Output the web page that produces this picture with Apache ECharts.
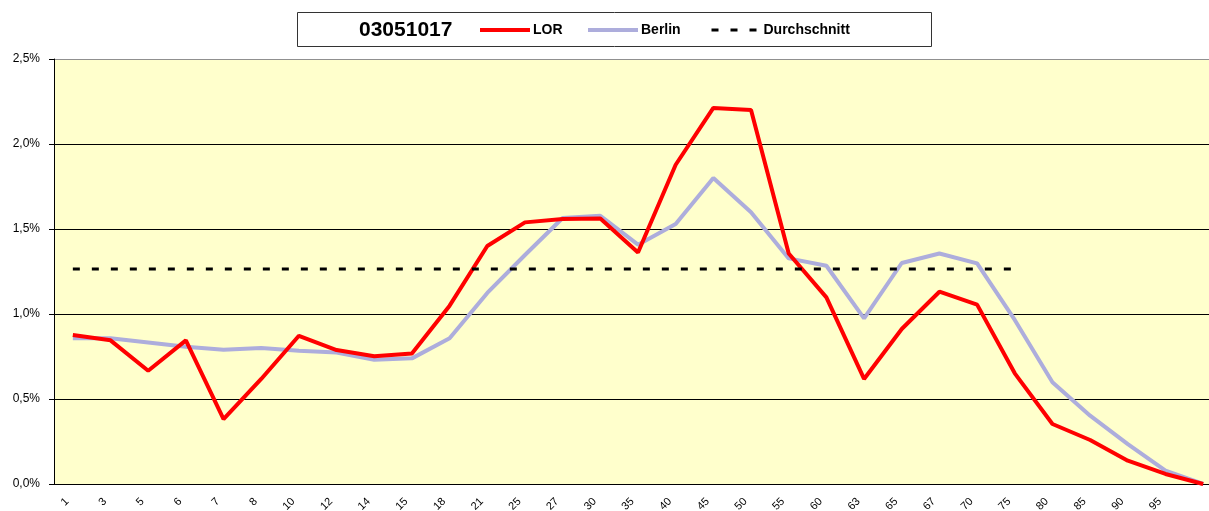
<!DOCTYPE html>
<html>
<head>
<meta charset="utf-8">
<script src="https://cdn.jsdelivr.net/npm/echarts@6/dist/echarts.min.js"></script>
<style>
  html, body { margin: 0; padding: 0; background: #fff; }
  #main { width: 1209px; height: 511px; }
</style>
</head>
<body>
<div id="main"></div>
<script>
// Altersgruppen (Kategorien der x-Achse)
const ageLabels = ['1', '3', '5', '6', '7', '8', '10', '12', '14', '15', '18', '21', '25', '27', '30',
  '35', '40', '45', '50', '55', '60', '63', '65', '67', '70', '75', '80', '85', '90', '95', ''];

// Anteile in %
const lorValues = [0.876, 0.845, 0.666, 0.845, 0.382, 0.618, 0.872, 0.788, 0.751, 0.768,
  1.049, 1.400, 1.539, 1.559, 1.562, 1.362, 1.878, 2.212, 2.200, 1.356,
  1.098, 0.618, 0.912, 1.131, 1.055, 0.651, 0.353, 0.259, 0.137, 0.059, 0.0];

const berlinValues = [0.857, 0.857, 0.833, 0.808, 0.790, 0.800, 0.784, 0.774, 0.731, 0.739,
  0.857, 1.124, 1.347, 1.565, 1.578, 1.408, 1.529, 1.800, 1.598, 1.327,
  1.284, 0.974, 1.300, 1.356, 1.298, 0.965, 0.598, 0.402, 0.235, 0.078, 0.0];

const avgValues = [1.265, 1.265, 1.265, 1.265, 1.265, 1.265, 1.265, 1.265, 1.265, 1.265,
  1.265, 1.265, 1.265, 1.265, 1.265, 1.265, 1.265, 1.265, 1.265, 1.265,
  1.265, 1.265, 1.265, 1.265, 1.265, 1.265, null, null, null, null, null];

const chartTitle = '03051017';

const myChart = echarts.init(document.getElementById('main'));

const font = '"Liberation Sans", Arial, sans-serif';

// ein Legendeneintrag pro Serie, damit jeder genau sitzt
function legendItem(name, left, width, lineWidth, textShift) {
  return {
    data: [name],
    left: left,
    top: 23,
    padding: 0,
    itemWidth: width,
    itemHeight: 14,
    itemStyle: { opacity: 0 },
    lineStyle: { width: lineWidth },
    textStyle: { fontFamily: font, fontSize: 14, fontWeight: 'bold', color: '#000', padding: [0, 0, 0, textShift] }
  };
}

const option = {
  animation: false,
  backgroundColor: '#ffffff',
  textStyle: { fontFamily: font },
  graphic: [
    {
      type: 'rect',
      shape: { x: 297.5, y: 12.5, width: 634, height: 34 },
      style: { fill: '#ffffff', stroke: '#333333', lineWidth: 1 },
      z: 0
    },
    {
      type: 'text',
      x: 359,
      y: 30,
      style: {
        text: chartTitle,
        fontFamily: font,
        fontSize: 21,
        fontWeight: 'bold',
        fill: '#000',
        textVerticalAlign: 'middle'
      },
      z: 1
    }
  ],
  legend: [
    legendItem('LOR', 478, 50, 4, -2),
    legendItem('Berlin', 586, 50, 4, -2),
    legendItem('Durchschnitt', 710, 45, 3, 2)
  ],
  grid: {
    left: 54,
    top: 59,
    width: 1168,
    height: 425,
    outerBoundsMode: 'none',
    show: true,
    backgroundColor: '#FFFFCC',
    borderWidth: 0
  },
  xAxis: {
    type: 'category',
    data: ageLabels,
    boundaryGap: true,
    axisLine: { lineStyle: { color: '#000', width: 1 } },
    axisTick: { interval: 0, length: 4, lineStyle: { color: '#000' } },
    axisLabel: {
      interval: 0,
      rotate: 45,
      fontSize: 11,
      color: '#000',
      margin: 10,
      padding: [0, 8, 0, 0],
      fontFamily: font
    }
  },
  yAxis: {
    type: 'value',
    min: 0,
    max: 2.5,
    interval: 0.5,
    axisLine: { show: true, lineStyle: { color: '#000', width: 1 } },
    axisTick: { show: true, length: 5, lineStyle: { color: '#000' } },
    axisLabel: {
      fontSize: 12,
      color: '#000',
      margin: 14,
      fontFamily: font,
      formatter: v => v.toFixed(1).replace('.', ',') + '%'
    },
    splitLine: {
      show: true,
      lineStyle: { color: ['#000', '#000', '#000', '#000', '#000', '#909090'], width: 1 }
    }
  },
  series: [
    {
      name: 'Berlin',
      type: 'line',
      data: berlinValues,
      symbol: 'none',
      lineStyle: { color: '#ADADDC', width: 4 },
      itemStyle: { color: '#ADADDC' },
      z: 2
    },
    {
      name: 'LOR',
      type: 'line',
      data: lorValues,
      symbol: 'none',
      lineStyle: { color: '#FF0000', width: 4 },
      itemStyle: { color: '#FF0000' },
      z: 3
    },
    {
      name: 'Durchschnitt',
      type: 'line',
      data: avgValues,
      symbol: 'none',
      connectNulls: false,
      lineStyle: { color: '#000', width: 3, type: [7, 12] },
      itemStyle: { color: '#000' },
      z: 4
    }
  ]
};

myChart.setOption(option);
</script>
</body>
</html>
